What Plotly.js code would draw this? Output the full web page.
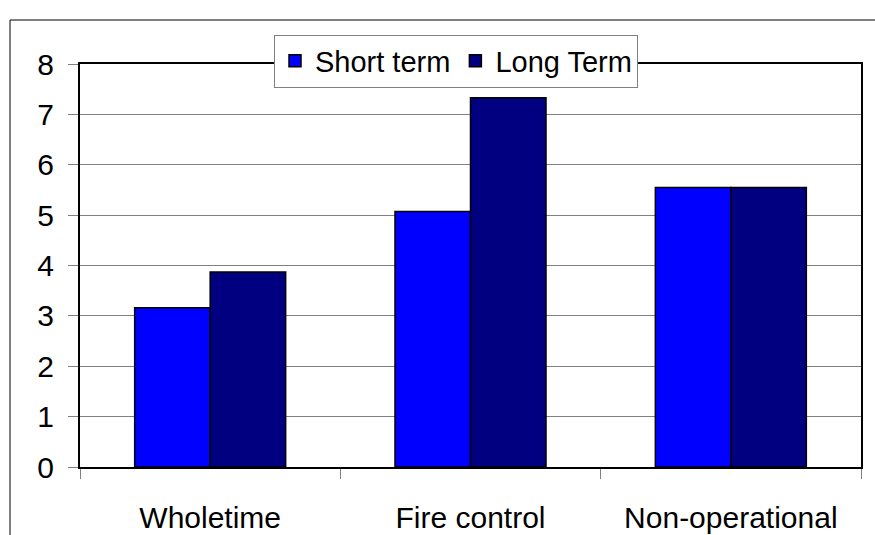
<!DOCTYPE html>
<html>
<head>
<meta charset="utf-8">
<script src="https://cdn.plot.ly/plotly-3.0.1.min.js"></script>
<style>
  html, body { margin: 0; padding: 0; background: #fff; }
  #chart { width: 875px; height: 535px; }
</style>
</head>
<body>
<div id="chart"></div>
<script>
const categories = ["Wholetime", "Fire control", "Non-operational"];
const seriesNames = ["Short term", "Long Term"];
const shortTerm = [3.16, 5.07, 5.55];
const longTerm = [3.87, 7.33, 5.55];
const yTicks = [0, 1, 2, 3, 4, 5, 6, 7, 8];

const fontFamily = "'Liberation Sans', Arial, sans-serif";

const traces = [
  {
    type: "bar", name: seriesNames[0], x: categories, y: shortTerm,
    marker: { color: "#0000FF", line: { color: "#000000", width: 1.5 } }
  },
  {
    type: "bar", name: seriesNames[1], x: categories, y: longTerm,
    marker: { color: "#000080", line: { color: "#000000", width: 1.5 } }
  }
];

const L = 80, R = 14, T = 64, B = 68;
const W = 875, H = 535;
const pw = W - L - R, ph = H - T - B;
const px = v => (v - L) / pw;
const py = v => (H - B - v) / ph;

const layout = {
  width: W, height: H,
  margin: { l: L, r: R, t: T, b: B, pad: 0 },
  paper_bgcolor: "rgba(0,0,0,0)",
  plot_bgcolor: "#ffffff",
  font: { family: fontFamily, size: 29, color: "#000000" },
  barmode: "group",
  bargap: 0.42,
  bargroupgap: 0,
  showlegend: true,
  legend: {
    orientation: "h",
    x: px(274), y: py(61), xanchor: "left", yanchor: "middle",
    bgcolor: "#ffffff", bordercolor: "#808080", borderwidth: 1,
    font: { family: fontFamily, size: 29, color: "#000000" },
    itemwidth: 30, tracegroupgap: 0,
    traceorder: "normal"
  },
  xaxis: {
    type: "category",
    showline: true, linecolor: "#000000", linewidth: 2, mirror: true,
    ticks: "outside", tickson: "boundaries", ticklen: 10, tickcolor: "#808080", tickwidth: 1,
    ticklabelstandoff: 23,
    tickfont: { family: fontFamily, size: 30, color: "#000000" },
    showgrid: false, zeroline: false
  },
  yaxis: {
    range: [0, 8],
    tickvals: yTicks, ticktext: yTicks.map(String),
    showline: true, linecolor: "#000000", linewidth: 2, mirror: true,
    ticks: "outside", ticklen: 10, tickcolor: "#808080", tickwidth: 1,
    ticklabelstandoff: 8,
    tickfont: { family: fontFamily, size: 30, color: "#000000" },
    showgrid: true, gridcolor: "#808080", gridwidth: 1,
    zeroline: false
  },
  shapes: [
    {
      type: "path", xref: "paper", yref: "paper",
      path: `M ${px(10)} ${py(560)} L ${px(10)} ${py(20)} L ${px(900)} ${py(20)}`,
      line: { color: "#000000", width: 1 }, layer: "below"
    }
  ]
};

Plotly.newPlot("chart", traces, layout, { displayModeBar: false, staticPlot: true });
</script>
</body>
</html>
